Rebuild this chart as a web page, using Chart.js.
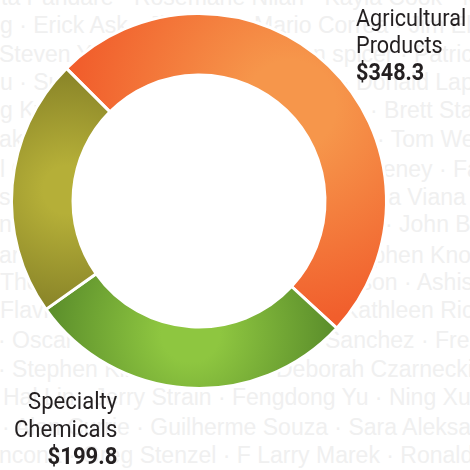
<!DOCTYPE html>
<html><head><meta charset="utf-8">
<script src="https://cdn.jsdelivr.net/npm/chart.js@4.4.1/dist/chart.umd.min.js"></script>
<style>
html,body{margin:0;padding:0;background:#fff;}
#wrap{position:relative;width:470px;height:470px;overflow:hidden;background:#fff;}
#bg{position:absolute;left:0;top:0;width:470px;height:470px;font-family:"Liberation Sans",Arial,sans-serif;font-size:23px;line-height:23px;color:#f0f0f0;white-space:nowrap;}
#bg span{position:absolute;}
#c{position:absolute;left:0;top:0;}
.lbl{position:absolute;font-family:Roboto,"Liberation Sans",sans-serif;font-size:24px;line-height:27px;color:#231f20;white-space:nowrap;}
.lbl span{display:block;}
.lbl .v{font-weight:700;}
</style></head>
<body>
<div id="wrap">
  <div id="bg"></div>
  <canvas id="c" width="470" height="470"></canvas>
  <div id="l0" class="lbl" style="left:356px;top:5px;transform:scaleX(0.9);transform-origin:left top;text-align:left;"></div>
  <div id="l1" class="lbl" style="right:353px;top:388px;line-height:27.5px;transform:scaleX(0.92);transform-origin:right top;text-align:right;"></div>
</div>
<script>
// ---- chart data ----
const categories = ["Agricultural Products", "Specialty Chemicals", "Other"];
const values = [348.3, 199.8, 157.4];
const labelledIndexes = [0, 1];

// ---- colours ----
const lightColors = ["#f6964b", "#8ec640", "#b5af38"];
const darkColors  = ["#f15e2c", "#5d902c", "#8b8629"];
const flatColors  = ["#f47b3e", "#78b036", "#a39d33"];

// ---- decorative background names ----
const bgNames = [
  [5, 1, "ta Pandare · Rosemarie Nilan · Kayla Cook · Mei Lin"],
  [33, 0, "g · Erick Ask · Jill"], [33, 254, "Mario Correa · Jim Ellison"],
  [62, -1, "Steven Young · Li"], [62, 313, "n spicer · Patrick Hale"],
  [90, 0, "u · Susan Park"], [90, 342, "· Donald Lapointe"],
  [118, 0, "g Kwan"], [118, 370, "· Brett Stanley"],
  [147, -1, "akeshi Ono"], [147, 377, "· Tom Wells"],
  [177, 0, "l Chen"], [177, 338, "Sweeney · Farah"],
  [205, -1, "sloan"], [205, 346, "Carla Viana"],
  [232, -1, "na Roy"], [232, 385, "· John Burke"],
  [263, -1, "ar Patel"], [263, 338, "Stephen Knox"],
  [290, 0, "Thomas Reed"], [290, 326, "Nelson · Ashish"],
  [318, 0, "Flavio Silva"], [318, 343, "Kathleen Richards"],
  [348, -2, "· Oscar Diaz"], [348, 325, "Sanchez · Fred O'Neil"],
  [377, -2, "· Stephen Kirk"], [377, 276, "Deborah Czarnecki"],
  [405, 3, "Hal Lin"], [405, 94, "Jerry Strain · Fengdong Yu · Ning Xu"],
  [435, 2, "· Alan Currie · Guilherme Souza · Sara Aleksandra"],
  [463, -1, "ncona · Greg Stenzel · F Larry Marek · Ronald Hu"]
];

const bg = document.getElementById('bg');
bgNames.forEach(([base, x, t]) => {
  const s = document.createElement('span');
  s.textContent = t;
  s.style.left = x + 'px';
  s.style.top = (base - 19.5) + 'px';
  bg.appendChild(s);
});

labelledIndexes.forEach(i => {
  const el = document.getElementById('l' + i);
  categories[i].split(' ').forEach(w => {
    const s = document.createElement('span'); s.textContent = w; el.appendChild(s);
  });
  const v = document.createElement('span'); v.className = 'v';
  v.textContent = '$' + values[i].toFixed(1); el.appendChild(v);
});

const ROT = -45, CUT = 0.672, BW = 3;

function segColor(ctx) {
  const chart = ctx.chart, a = chart.chartArea, i = ctx.dataIndex;
  if (!a || i === undefined) return flatColors[i] || '#ccc';
  const cx = (a.left + a.right) / 2, cy = (a.top + a.bottom) / 2;
  const R = (Math.min(a.right - a.left, a.bottom - a.top) - BW) / 2;
  const r = R * CUT;
  const total = values.reduce((p, c) => p + c, 0);
  let start = -Math.PI / 2 + ROT * Math.PI / 180;
  for (let k = 0; k < i; k++) start += values[k] / total * 2 * Math.PI;
  const span = values[i] / total * 2 * Math.PI;
  const mid = start + span / 2;
  const rm = r + (R - r) * 0.1;
  const gx = cx + rm * Math.cos(mid), gy = cy + rm * Math.sin(mid);
  const ex = cx + R * Math.cos(start), ey = cy + R * Math.sin(start);
  const dist = Math.hypot(ex - gx, ey - gy);
  const g = chart.ctx.createRadialGradient(gx, gy, 0, gx, gy, dist);
  g.addColorStop(0, lightColors[i]);
  g.addColorStop(0.2, lightColors[i]);
  g.addColorStop(0.95, darkColors[i]);
  g.addColorStop(1, darkColors[i]);
  return g;
}

const whiteDisc = {
  id: 'whiteDisc',
  beforeDatasetsDraw(chart) {
    const a = chart.chartArea, c = chart.ctx;
    const cx = (a.left + a.right) / 2, cy = (a.top + a.bottom) / 2;
    const R = (Math.min(a.right - a.left, a.bottom - a.top) - BW) / 2;
    c.save(); c.fillStyle = '#fff'; c.beginPath(); c.arc(cx, cy, R + 1, 0, Math.PI * 2); c.fill(); c.restore();
  }
};

new Chart(document.getElementById('c'), {
  type: 'doughnut',
  data: {
    labels: categories,
    datasets: [{
      data: values,
      backgroundColor: segColor,
      borderColor: '#ffffff',
      borderWidth: BW,
      hoverOffset: 0
    }]
  },
  options: {
    responsive: false,
    animation: false,
    rotation: ROT,
    cutout: (CUT * 100) + '%',
    layout: { padding: { left: 10, top: 12, right: 82, bottom: 80 } },
    plugins: { legend: { display: false }, tooltip: { enabled: false } },
    events: []
  },
  plugins: [whiteDisc]
});
</script>
</body></html>
